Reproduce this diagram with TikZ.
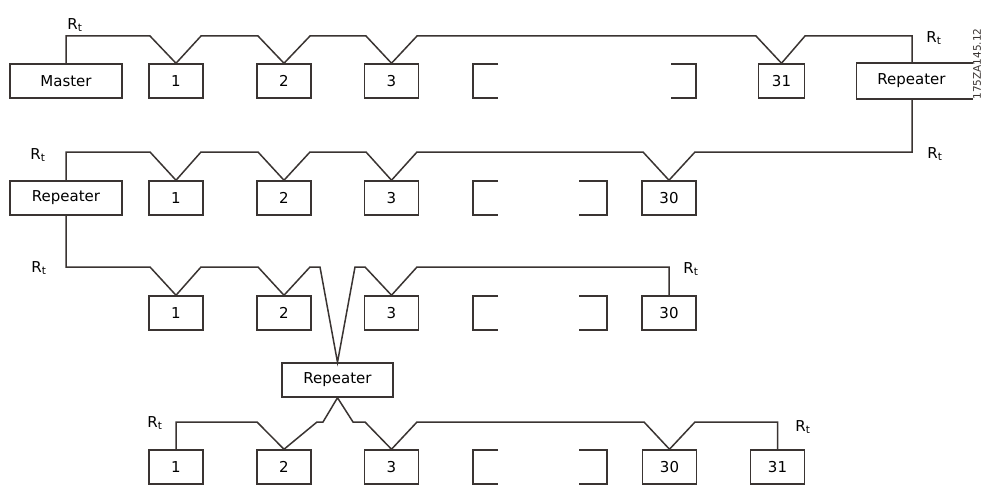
\documentclass[tikz,border=0pt]{standalone}
\usepackage{fontspec}
\setmainfont{DejaVu Sans}
\usetikzlibrary{calc}
\definecolor{ln}{RGB}{58,52,50}
\tikzset{
  box/.style={draw=ln, line width=1.5pt, minimum height=34pt, inner sep=0pt, font=\fontsize{15}{18}\selectfont, text=black},
  stn/.style={box, minimum width=54pt},
  bus/.style={draw=ln, line width=1.5pt, line join=miter},
  rt/.style={font=\fontsize{15}{18}\selectfont, inner sep=0pt, text=black},
}
\begin{document}
\begin{tikzpicture}[x=1pt,y=-1pt]
\useasboundingbox[fill=white] (0,0) rectangle (983,487);

% ---------- row 1 ----------
\node[box, minimum width=112pt] (master) at (66,81) {Master};
\node[stn] (a1) at (176,81) {1};
\node[stn] (a2) at (284,81) {2};
\node[stn] (a3) at (391.5,81) {3};
\node[box, minimum width=46pt] (a31) at (781.5,81) {31};
\node[box, draw=none, minimum width=115pt] (rep1) at (914.5,81) {\hspace*{-6pt}Repeater};
\draw[bus] (rep1.north east) -- (rep1.north west) -- (rep1.south west) -- (rep1.south east);
\draw[bus] (498,64) -- (473,64) -- (473,98) -- (498,98);
\draw[bus] (671,64) -- (696,64) -- (696,98) -- (671,98);
\node[rotate=90, font=\fontsize{10.5}{12}\selectfont, text=ln, inner sep=0pt] (code) at (977,64) {175ZA145.12};

% ---------- row 2 ----------
\node[box, minimum width=112pt] (rep2) at (66,198) {Repeater};
\node[stn] (b1) at (176,198) {1};
\node[stn] (b2) at (284,198) {2};
\node[stn] (b3) at (391.5,198) {3};
\node[stn] (b30) at (669,198) {30};
\draw[bus] (498,181) -- (473,181) -- (473,215) -- (498,215);
\draw[bus] (579,181) -- (607,181) -- (607,215) -- (579,215);

% ---------- row 3 ----------
\node[stn] (c1) at (176,313) {1};
\node[stn] (c2) at (284,313) {2};
\node[stn] (c3) at (391.5,313) {3};
\node[stn] (c30) at (669,313) {30};
\draw[bus] (498,296) -- (473,296) -- (473,330) -- (498,330);
\draw[bus] (579,296) -- (607,296) -- (607,330) -- (579,330);

% ---------- middle repeater ----------
\node[box, minimum width=111pt] (rep3) at (337.5,380) {Repeater};

% ---------- row 4 ----------
\node[stn] (d1) at (176,467) {1};
\node[stn] (d2) at (284,467) {2};
\node[stn] (d3) at (391.5,467) {3};
\node[stn] (d30) at (669.5,467) {30};
\node[stn] (d31) at (777.5,467) {31};
\draw[bus] (498,450) -- (473,450) -- (473,484) -- (498,484);
\draw[bus] (579,450) -- (607,450) -- (607,484) -- (579,484);

% ---------- termination labels ----------
\node[rt] (t1) at (75,25) {R\textsubscript{t}};
\node[rt] (t2) at (934,38) {R\textsubscript{t}};
\node[rt] (t3) at (38,155) {R\textsubscript{t}};
\node[rt] (t4) at (935,154) {R\textsubscript{t}};
\node[rt] (t5) at (39,268) {R\textsubscript{t}};
\node[rt] (t6) at (691,269) {R\textsubscript{t}};
\node[rt] (t7) at (155,423) {R\textsubscript{t}};
\node[rt] (t8) at (803,427) {R\textsubscript{t}};

% ---------- bus 1 ----------
\draw[bus] (master.north) -- (66,36) -- (150,36) -- (a1.north) -- (201,36)
  -- (258,36) -- (a2.north) -- (310,36) -- (366,36) -- (a3.north) -- (417,36)
  -- (756,36) -- (a31.north) -- (805,36) -- (912,36) -- (912,64);

% ---------- bus 2 ----------
\draw[bus] (912,98) -- (912,152) -- (695,152) -- (b30.north) -- (643,152)
  -- (417,152) -- (b3.north) -- (366,152) -- (310,152) -- (b2.north) -- (258,152)
  -- (201,152) -- (b1.north) -- (150,152) -- (66,152) -- (rep2.north);

% ---------- bus 3 ----------
\draw[bus] (rep2.south) -- (66,267) -- (150,267) -- (c1.north) -- (201,267)
  -- (258,267) -- (c2.north) -- (310,267) -- (320,267) -- (rep3.north)
  -- (355,267) -- (365,267) -- (c3.north) -- (417,267) -- (669,267) -- (c30.north);

% ---------- bus 4 ----------
\draw[bus] (d1.north) -- (176,422) -- (257,422) -- (d2.north) -- (317,422)
  -- (323,422) -- (rep3.south) -- (353,422) -- (365,422) -- (d3.north)
  -- (417,422) -- (644,422) -- (d30.north) -- (695,422) -- (777.5,422) -- (d31.north);
\end{tikzpicture}
\end{document}
